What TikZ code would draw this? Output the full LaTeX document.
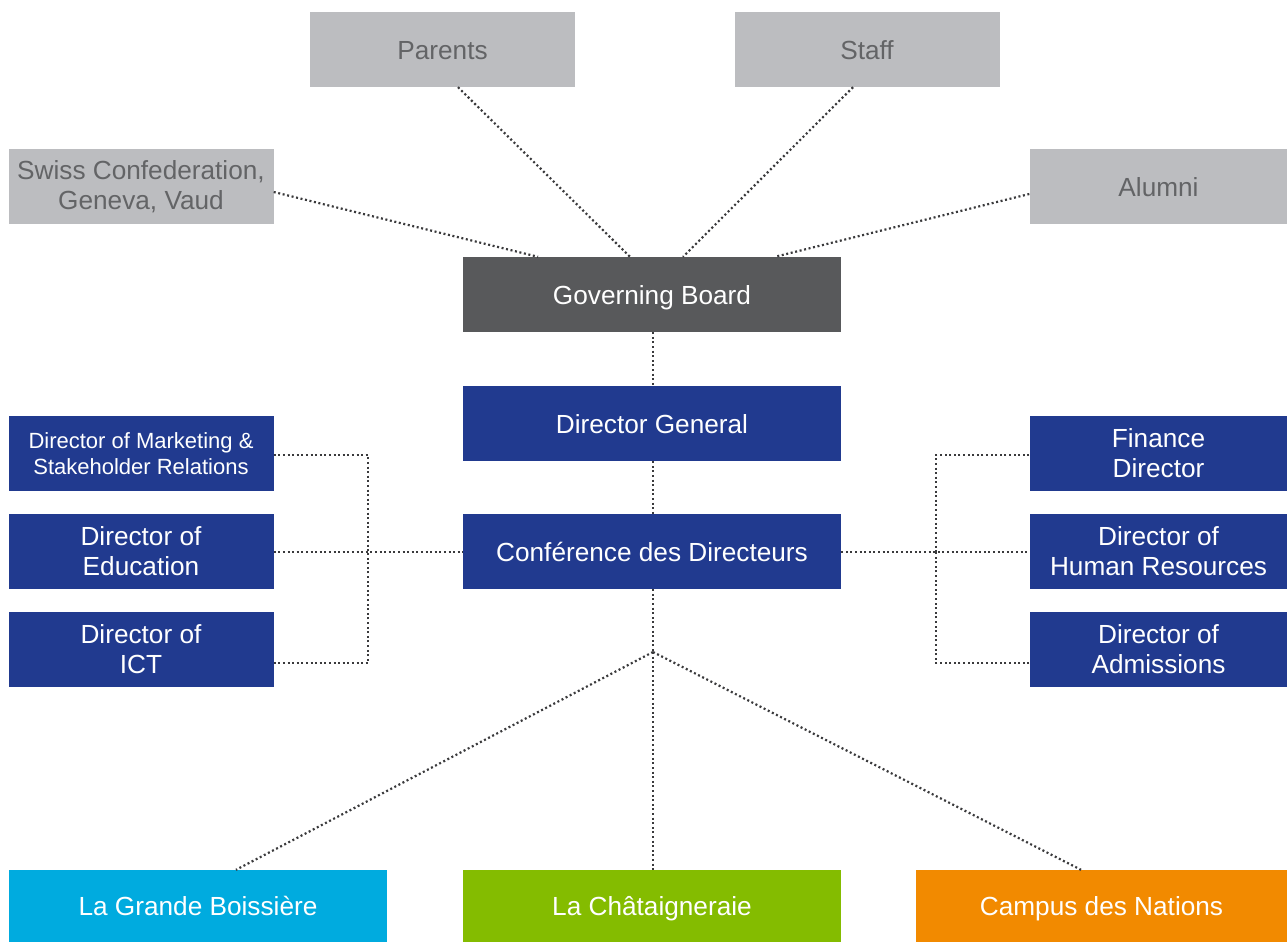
\documentclass[tikz,border=0pt]{standalone}
\usepackage{fontspec}
\setmainfont{Liberation Sans}
\definecolor{boxgray}{HTML}{BCBDC0}
\definecolor{txtgray}{HTML}{636466}
\definecolor{gbgray}{HTML}{58595B}
\definecolor{dblue}{HTML}{213A8F}
\definecolor{lgbcyan}{HTML}{00ABDF}
\definecolor{chatgreen}{HTML}{84BC00}
\definecolor{cdnorange}{HTML}{F28A00}
\definecolor{dotcol}{HTML}{3A3A3C}
\tikzset{
  base/.style={inner sep=0pt, align=center, font=\fontsize{26.2}{30}\selectfont},
  oneline/.style={text height=19.5pt, text depth=0pt},
  graybox/.style={base, fill=boxgray, text=txtgray, minimum width=265pt, minimum height=75pt},
  sidegray/.style={graybox, minimum width=258pt},
  centerbox/.style={base, oneline, text=white, minimum width=378pt, minimum height=75pt},
  leftbox/.style={base, fill=dblue, text=white, minimum width=265pt, minimum height=75pt},
  rightbox/.style={base, fill=dblue, text=white, minimum width=258pt, minimum height=75pt},
  campus/.style={base, oneline, text=white, minimum width=378pt, minimum height=72pt},
  link/.style={draw=dotcol, line width=2.2pt, dash pattern=on 2pt off 2.6pt}
}
\begin{document}
\begin{tikzpicture}[x=1pt,y=-1pt]
\useasboundingbox (0,0) rectangle (1287,942);
% top stakeholders
\node[graybox, oneline] (parents) at (442.5,49.5) {Parents};
\node[graybox, oneline] (staff) at (867,49.5) {Staff};
\node[graybox] (swiss) at (141,186.5) {Swiss Confederation,\\Geneva, Vaud};
\node[sidegray, oneline] (alumni) at (1158.5,186.5) {Alumni};
% centre column
\node[centerbox, fill=gbgray] (gb) at (652,294.5) {Governing Board};
\node[centerbox, fill=dblue] (dg) at (652,423.5) {Director General};
\node[centerbox, fill=dblue] (conf) at (652,551.5) {Conférence des Directeurs};
% left directors
\node[leftbox, font=\fontsize{22}{26}\selectfont] (mkt) at (141,453.5) {Director of Marketing \&\\Stakeholder Relations};
\node[leftbox] (edu) at (141,551.5) {Director of\\Education};
\node[leftbox] (ict) at (141,649.5) {Director of\\ICT};
% right directors
\node[rightbox] (fin) at (1158.5,453.5) {Finance\\Director};
\node[rightbox] (hr) at (1158.5,551.5) {Director of\\Human Resources};
\node[rightbox] (adm) at (1158.5,649.5) {Director of\\Admissions};
% campuses
\node[campus, fill=lgbcyan] (lgb) at (198,906) {La Grande Boissière};
\node[campus, fill=chatgreen] (chat) at (652,906) {La Châtaigneraie};
\node[campus, fill=cdnorange, minimum width=371pt] (cdn) at (1101.5,906) {Campus des Nations};
% junctions
\coordinate (lj) at (368,552);
\coordinate (rj) at (936,552);
\coordinate (bj) at (653,652);
% connectors top
\draw[link] ([xshift=15.5pt]parents.south) -- ([xshift=-22pt]gb.north);
\draw[link] ([xshift=-14pt]staff.south) -- ([xshift=31pt]gb.north);
\draw[link] ([yshift=-5.5pt]swiss.east) -- ([xshift=-114pt]gb.north);
\draw[link] ([yshift=-7.5pt]alumni.west) -- ([xshift=123pt]gb.north);
\draw[link] ([xshift=1pt]gb.south) -- ([xshift=1pt]dg.north);
\draw[link] ([xshift=1pt]dg.south) -- ([xshift=1pt]conf.north);
% left bracket
\draw[link] ([yshift=-1.5pt]mkt.east) -| (lj);
\draw[link] ([yshift=-13.5pt]ict.east) -| (lj);
\draw[link] ([yshift=-0.5pt]edu.east) -- ([yshift=-0.5pt]conf.west);
% right bracket
\draw[link] ([yshift=-1.5pt]fin.west) -| (rj);
\draw[link] ([yshift=-13.5pt]adm.west) -| (rj);
\draw[link] ([yshift=-0.5pt]conf.east) -- ([yshift=-0.5pt]hr.west);
% campuses
\draw[link] ([xshift=1pt]conf.south) -- (bj);
\draw[link] (bj) -- ([xshift=38pt]lgb.north);
\draw[link] (bj) -- ([xshift=1pt]chat.north);
\draw[link] (bj) -- ([xshift=-20.5pt]cdn.north);
\end{tikzpicture}
\end{document}
